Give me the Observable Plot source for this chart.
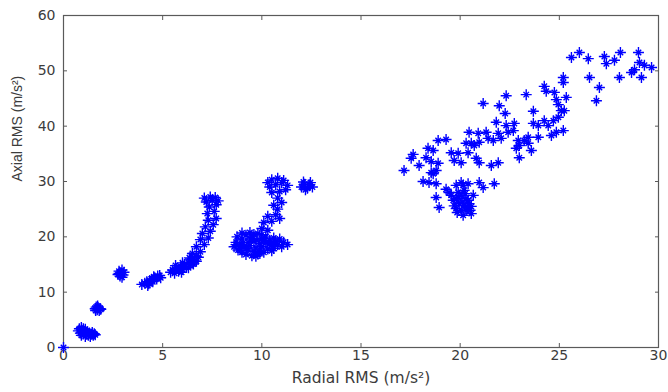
<!DOCTYPE html>
<html>
<head>
<meta charset="utf-8">
<script src="https://cdn.jsdelivr.net/npm/d3@7"></script>
<script src="https://cdn.jsdelivr.net/npm/@observablehq/plot@0.6"></script>
<style>
  html, body { margin: 0; padding: 0; background: #fff; }
  #chart svg { display: block; }
</style>
</head>
<body>
<div id="chart"></div>
<script>
// Readings [radial RMS, axial RMS] in m/s², grouped by cluster
const origin = [[0, 0]];
const clusterB = [[0.75,3.0],[0.8,3.4],[0.85,2.6],[0.9,3.6],[0.95,3.0],[1.0,3.4],[1.0,2.5],[1.05,2.9],[1.1,3.3],[1.15,2.4],[1.2,2.8],[1.25,2.2],[1.3,2.6],[1.35,2.0],[1.4,2.4],[1.45,2.7],[1.5,2.2],[1.55,2.5],[1.6,2.3],[0.9,2.2],[1.1,2.0]];
const clusterC = [[1.6,7.0],[1.65,7.3],[1.7,6.8],[1.75,7.2],[1.8,6.7],[1.85,7.0],[1.72,7.5],[1.88,6.9],[1.62,6.7]];
const clusterD = [[2.75,13.2],[2.8,13.8],[2.85,12.9],[2.9,13.5],[2.95,14.0],[3.0,13.1],[3.05,13.6],[2.8,13.4],[2.95,12.7]];
const clusterE = [[3.95,11.4],[4.1,11.6],[4.2,11.9],[4.3,11.5],[4.35,12.1],[4.45,12.3],[4.5,11.9],[4.6,12.6],[4.7,12.4],[4.75,12.9],[4.85,13.0],[4.25,11.2],[4.55,12.8],[4.9,12.6]];
const clusterF = [[5.4,13.6],[5.5,14.0],[5.6,13.4],[5.7,14.3],[5.8,13.8],[5.9,14.6],[6.0,14.1],[6.1,15.0],[6.2,14.5],[6.3,15.4],[6.4,15.0],[6.5,16.0],[6.6,15.6],[6.7,16.5],[5.65,14.8],[6.0,15.3],[6.35,16.2],[5.95,13.6],[6.3,14.4],[6.55,15.1],[6.7,15.6],
  [6.4,16.0],[6.8,16.3],[6.5,17.0],[6.9,17.3],[6.7,18.2],[7.1,18.6],[6.9,19.5],[7.3,19.8],[7.0,20.6],[7.4,21.0],[7.15,21.8],[7.55,22.2],[7.3,23.0],[7.7,23.3],[7.25,24.2],[7.6,24.6],[7.35,25.4],[7.7,25.8],[7.2,26.3],[7.5,26.6],[7.8,26.5],[7.1,27.0],[7.4,27.2],[7.65,27.1]];
const clusterG = [[8.6,18.2],[8.7,19.0],[8.8,17.6],[8.9,18.6],[9.0,19.6],[9.0,17.2],[9.1,18.2],[9.2,20.3],[9.2,16.8],[9.3,19.0],[9.3,17.6],[9.4,18.4],[9.5,20.0],[9.5,16.6],[9.6,17.4],[9.6,19.2],[9.7,18.0],[9.8,20.6],[9.8,16.9],[9.9,18.8],[9.9,17.6],[10.0,19.6],[10.0,18.2],[10.1,17.2],[10.2,18.9],[10.3,17.8],[10.4,19.4],[10.5,18.4],[10.6,17.9],[10.7,19.2],[10.8,18.6],[10.9,19.6],[11.0,18.2],[11.1,19.0],[11.3,18.6],[9.4,20.8],[8.75,20.0],[10.2,20.0],[9.0,20.7],[10.6,19.8],
  [8.7,18.6],[9.05,18.9],[9.45,19.6],[9.75,19.4],[10.1,19.3],[10.4,18.8],[10.65,18.6],[9.25,17.9],[9.9,17.0],[10.5,17.5],[9.7,16.5],[8.9,17.9],[10.0,20.4],[9.6,20.4]];
const clusterH = [[10.0,21.5],[10.3,21.2],[10.1,22.6],[10.5,22.8],[10.3,23.7],[10.7,24.0],[10.9,23.3],[10.8,25.0],[10.6,25.7],[11.0,26.2],[10.8,27.0],[10.5,28.0],[10.9,28.2],[11.2,28.5],[10.4,29.0],[10.7,29.4],[11.0,29.8],[10.5,30.3],[10.8,30.6],[11.1,30.2],[10.3,29.8],[11.3,29.3]];
const clusterI = [[12.0,29.0],[12.15,29.5],[12.3,28.8],[12.4,29.4],[12.55,29.0],[12.2,28.5],[12.45,29.8],[12.1,29.9]];
const clusterTop = [[25.61,52.4],[26.01,53.3],[26.46,52.2],[27.27,52.6],[27.37,51.3],[27.78,51.9],[28.08,53.3],[28.99,53.3],[29.04,51.5],[29.29,51.0],[28.79,50.2],[28.64,49.7],[29.65,50.6],[29.14,48.8],[28.03,48.8],[26.52,48.8],[27.02,47.0],[26.87,44.6],[25.20,48.8],[25.20,47.9],[24.24,47.2],[24.34,46.3],[24.75,46.1],[24.85,44.8],[24.95,43.9],[25.35,45.2],[23.33,45.7],[23.69,42.7],[25.10,42.8],[25.25,42.8],[24.95,41.6],[24.70,41.0],[24.24,41.0],[23.94,40.1],[23.69,40.5],[25.20,39.2],[24.85,38.9],[24.60,38.3],[22.73,40.5],[22.68,39.2],[23.43,38.0],[23.94,38.0]];
const clusterMid = [[21.16,44.1],[21.97,43.7],[22.32,45.5],[22.27,42.3],[21.82,40.7],[22.32,40.1],[22.42,38.9],[24.44,40.1],[20.45,38.9],[20.91,38.7],[21.31,38.9],[21.92,38.7],[22.07,37.8],[21.41,37.8],[21.67,37.4],[20.96,37.1],[20.30,36.9],[20.56,36.9],[20.71,36.5],[22.93,37.4],[23.23,37.4],[23.43,36.9],[22.98,36.5],[23.59,35.6],[22.83,36.0],[18.89,37.4],[19.29,37.6],[18.38,36.0],[18.64,35.6],[19.55,35.2],[19.90,35.1],[20.40,35.2],[17.63,34.9],[17.53,34.2],[18.28,34.3],[18.54,33.6],[18.89,33.3],[17.93,32.9],[17.17,32.0],[19.70,33.8],[20.05,33.4],[20.81,34.2],[20.96,33.4],[21.57,32.9],[21.92,33.4],[22.98,34.3],[18.54,31.6],[18.79,32.0],[18.64,31.4]];
const clusterLow = [[18.13,30.0],[18.43,29.8],[18.79,29.6],[19.29,28.6],[19.44,28.0],[19.80,29.3],[20.05,29.8],[20.40,29.6],[20.96,29.8],[21.16,28.9],[21.72,29.6],[18.79,27.1],[18.94,25.3],[20.15,29.3],
  [19.55,27.5],[19.80,26.9],[20.05,27.5],[20.30,26.9],[19.95,26.0],[20.20,25.7],[20.45,26.0],[19.80,25.1],[20.05,24.8],[20.30,24.8],[20.56,24.2],[20.15,23.9],[20.40,26.6],[20.56,25.5],[19.65,26.6],[19.90,28.0],[20.20,28.4],[20.66,27.5],
  [19.7,25.6],[20.1,26.3],[20.35,25.3],[19.9,27.2],[20.25,27.8],[20.5,24.8],[19.85,24.4]];

const xTicks = [0, 5, 10, 15, 20, 25, 30];
const yTicks = [0, 10, 20, 30, 40, 50, 60];
const xLabel = "Radial RMS (m/s²)";
const yLabel = "Axial RMS (m/s²)";

const points = [origin, clusterB, clusterC, clusterD, clusterE, clusterF, clusterG, clusterH, clusterI, clusterTop, clusterMid, clusterLow]
  .flat().map(([radial, axial]) => ({radial, axial}));

// MATLAB-style '*' marker: long plus arms with short diagonal arms
const star = {
  draw(ctx, size) {
    const r = Math.sqrt(size / Math.PI);
    const d = r * 0.5;
    ctx.moveTo(-r, 0); ctx.lineTo(r, 0);
    ctx.moveTo(0, -r); ctx.lineTo(0, r);
    ctx.moveTo(-d, -d); ctx.lineTo(d, d);
    ctx.moveTo(-d, d); ctx.lineTo(d, -d);
  }
};

const axisColor = "#5a5a5a";
const textColor = "#3c3c3c";
const hFont = "DejaVu Sans, sans-serif";

const chart = Plot.plot({
  width: 668,
  height: 392,
  marginLeft: 63,
  marginRight: 10,
  marginTop: 15,
  marginBottom: 45,
  style: {fontFamily: hFont, fontSize: "14px", color: textColor, background: "#fff"},
  x: {domain: [0, 30]},
  y: {domain: [0, 60]},
  marks: [
    Plot.frame({stroke: axisColor, strokeWidth: 1.2}),
    Plot.axisX({ticks: xTicks, tickSize: -4, tickPadding: 7, label: null, stroke: axisColor, fill: textColor, fontSize: 14}),
    Plot.axisX({ticks: xTicks, anchor: "top", tickSize: -4, tickFormat: () => "", label: null, stroke: axisColor}),
    Plot.axisY({ticks: yTicks, tickSize: -4, tickPadding: 12, label: null, stroke: axisColor, fill: textColor, fontSize: 14}),
    Plot.axisY({ticks: yTicks, anchor: "right", tickSize: -4, tickFormat: () => "", label: null, stroke: axisColor}),
    Plot.dot(points, {x: "radial", y: "axial", symbol: star, r: 5.5, stroke: "#0000ff", strokeWidth: 1.4}),
    Plot.text([xLabel], {frameAnchor: "bottom", dy: 35, fontSize: 15.5, fill: textColor, fontFamily: hFont}),
    Plot.text([yLabel], {frameAnchor: "left", dx: -46, rotate: -90, fontSize: 14, fill: textColor, fontFamily: "Liberation Sans, Arial, sans-serif"})
  ]
});
document.getElementById("chart").appendChild(chart);
</script>
</body>
</html>
